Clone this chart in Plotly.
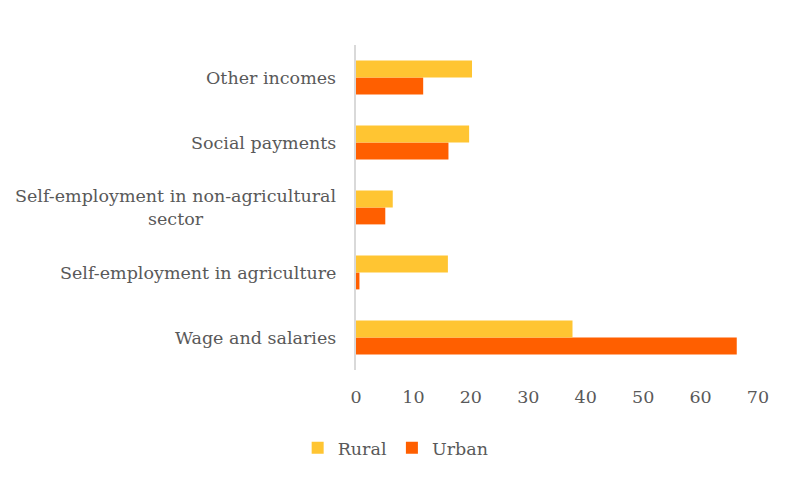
import plotly.graph_objects as go

categories = ["Wage and salaries", "Self-employment in agriculture",
              "Self-employment in non-agricultural<br>sector",
              "Social payments", "Other incomes"]
rural = [37.7, 16.0, 6.4, 19.7, 20.2]
urban = [66.3, 0.6, 5.1, 16.1, 11.7]
x_ticks = [0, 10, 20, 30, 40, 50, 60, 70]

FONT = "DejaVu Serif"
GRAY = "#595959"
FS = 17.5

fig = go.Figure()
fig.add_trace(go.Bar(y=categories, x=urban, name="Urban", orientation="h",
                     marker=dict(color="#FF5F00", line=dict(width=0))))
fig.add_trace(go.Bar(y=categories, x=rural, name="Rural", orientation="h",
                     marker=dict(color="#FFC532", line=dict(width=0))))

for c in categories:
    fig.add_annotation(x=0, xref="paper", y=c, yref="y", text=c, showarrow=False,
                       xanchor="right", align="center", xshift=-18,
                       font=dict(family=FONT, size=FS, color=GRAY))

fig.update_layout(
    width=780, height=469,
    margin=dict(l=348, r=30, t=37, b=107),
    paper_bgcolor="white", plot_bgcolor="white",
    barmode="group", bargap=0.48, bargroupgap=0,
    font=dict(family=FONT, size=FS, color=GRAY),
    xaxis=dict(range=[0, 70], tickvals=x_ticks, showgrid=False, zeroline=False,
               showline=False, ticks="", ticklabelstandoff=14,
               tickfont=dict(family=FONT, size=FS, color=GRAY)),
    yaxis=dict(showticklabels=False, showgrid=False, zeroline=False,
               showline=True, linecolor="#D9D9D9", linewidth=2, ticks=""),
    legend=dict(orientation="h", traceorder="reversed", xref="container",
                yref="container", x=0.497, xanchor="center", y=0.062,
                yanchor="middle", font=dict(family=FONT, size=FS, color=GRAY),
                itemwidth=30),
    showlegend=True,
)
fig.write_html("out.html")
